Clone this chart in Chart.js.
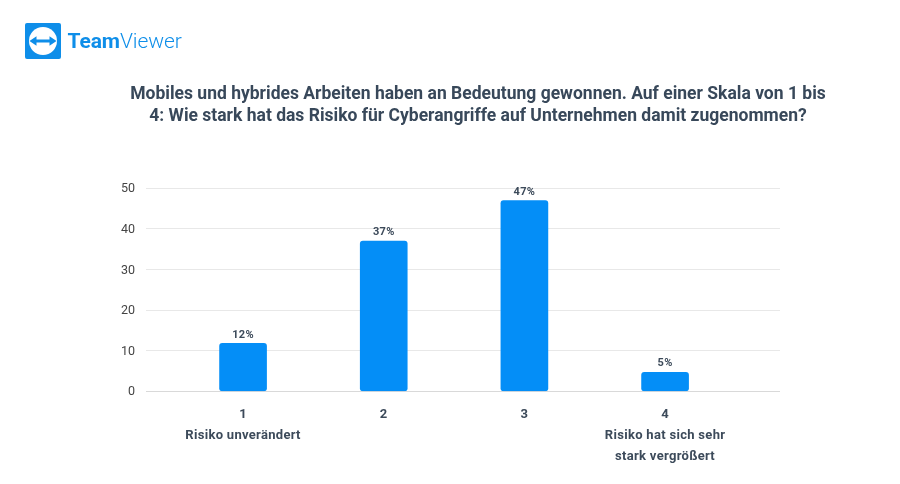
<!DOCTYPE html>
<html>
<head>
<meta charset="utf-8">
<script src="https://cdn.jsdelivr.net/npm/chart.js@4/dist/chart.umd.min.js"></script>
<style>
  html, body { margin: 0; padding: 0; background: #fff; }
  #wrap { position: relative; width: 900px; height: 484px; overflow: hidden; font-family: Roboto, sans-serif; }
  canvas { position: absolute; left: 0; top: 0; }
  #logo { position: absolute; left: 25px; top: 23px; }
  #brand { position: absolute; left: 67.5px; top: 27px; font-size: 21px; line-height: 28px; color: #0e8ee9; letter-spacing: -0.1px; white-space: nowrap; }
  #brand b { font-weight: 700; }
  #brand span { font-weight: 300; }
  #title { position: absolute; left: 78px; width: 800px; top: 83px; text-align: center; font-size: 17.5px; line-height: 21.6px; font-weight: 700; color: #38485a; }
</style>
</head>
<body>
<div id="wrap">
  <canvas id="chart" width="900" height="484"></canvas>
  <svg id="logo" width="36" height="36" viewBox="0 0 36 36">
    <rect width="36" height="36" rx="2" fill="#0e8ee9"/>
    <circle cx="18" cy="18" r="14" fill="#fff"/>
    <path d="M4.5 18 L11.5 13.2 V16.4 H24.5 V13.2 L31.5 18 L24.5 22.8 V19.6 H11.5 V22.8 Z" fill="#0e8ee9"/>
  </svg>
  <div id="brand"><b>Team</b><span>Viewer</span></div>
  <div id="title">Mobiles und hybrides Arbeiten haben an Bedeutung gewonnen. Auf einer Skala von 1 bis<br>4: Wie stark hat das Risiko für Cyberangriffe auf Unternehmen damit zugenommen?</div>
</div>
<script>
const positions = [1, 2, 3, 4];
const categories = [
  ['1', 'Risiko unverändert'],
  ['2'],
  ['3'],
  ['4', 'Risiko hat sich sehr', 'stark vergrößert']
];
const values = [11.8, 37, 47, 4.7];
const valueLabels = ['12%', '37%', '47%', '5%'];
const yTicks = [0, 10, 20, 30, 40, 50];

// percent labels above the bars
const barLabels = {
  id: 'barLabels',
  afterDatasetsDraw(chart) {
    const ctx = chart.ctx;
    ctx.save();
    ctx.font = '700 11px Roboto';
    ctx.letterSpacing = '0.3px';
    ctx.fillStyle = '#3c4a5a';
    ctx.textAlign = 'center';
    ctx.textBaseline = 'middle';
    chart.getDatasetMeta(0).data.forEach((bar, i) => {
      ctx.fillText(valueLabels[i], bar.x, bar.y - 8.5);
    });
    ctx.restore();
  }
};

// small tweaks on tick text: x labels spaced, y labels one pixel lower
const tickTweaks = {
  id: 'tickTweaks',
  beforeDraw(chart) {
    const { x, y } = chart.scales;
    if (x._tweaked) return;
    const drawX = x.drawLabels.bind(x);
    x.drawLabels = function (area) {
      chart.ctx.letterSpacing = '0.3px';
      drawX(area);
      chart.ctx.letterSpacing = '0px';
    };
    const drawY = y.drawLabels.bind(y);
    y.drawLabels = function (area) {
      chart.ctx.save();
      chart.ctx.translate(0, 1);
      drawY(area);
      chart.ctx.restore();
    };
    x._tweaked = true;
  }
};

new Chart(document.getElementById('chart'), {
  type: 'bar',
  data: {
    datasets: [{
      data: positions.map((p, i) => ({ x: p, y: values[i] })),
      backgroundColor: '#048ef7',
      borderRadius: 3,
      borderSkipped: false,
      barThickness: 47
    }]
  },
  options: {
    responsive: false,
    animation: false,
    layout: { padding: { left: 100, right: 120, top: 188.3, bottom: 0 } },
    plugins: { legend: { display: false }, tooltip: { enabled: false } },
    scales: {
      x: {
        type: 'linear',
        min: 0.31,
        max: 4.817,
        offset: false,
        grid: { display: false },
        border: { display: false },
        afterBuildTicks(axis) { axis.ticks = positions.map(v => ({ value: v })); },
        afterFit(axis) { axis.height = 92.7; },
        ticks: {
          autoSkip: false,
          maxRotation: 0,
          padding: 5,
          color: '#3c4a5a',
          font: { family: 'Roboto', size: 13, weight: '700', lineHeight: 1.6 },
          callback: v => categories[positions.indexOf(v)]
        }
      },
      y: {
        min: 0,
        max: 50,
        afterBuildTicks(axis) { axis.ticks = yTicks.map(v => ({ value: v })); },
        afterFit(axis) { axis.width = 46; },
        grid: {
          color: ctx => (ctx.tick && ctx.tick.value === 0 ? '#d9d9d9' : '#e8e8e8'),
          drawTicks: false
        },
        border: { display: false },
        ticks: {
          padding: 11,
          color: '#444444',
          font: { family: 'Roboto', size: 12.5 }
        }
      }
    }
  },
  plugins: [barLabels, tickTweaks]
});
</script>
</body>
</html>
